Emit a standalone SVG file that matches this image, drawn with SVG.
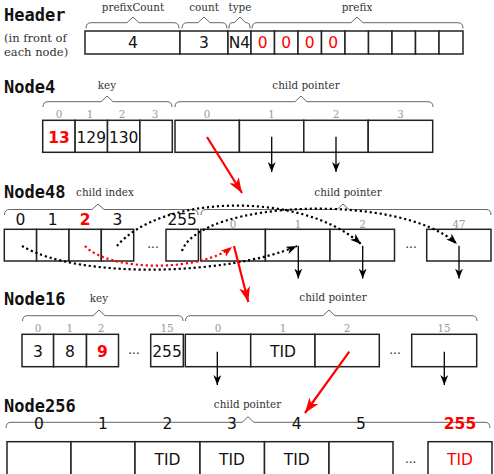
<svg xmlns="http://www.w3.org/2000/svg" width="494" height="474" viewBox="0 0 494 474">
<style>
.box{fill:#fff;stroke:#222;stroke-width:1.5}
.brace{fill:none;stroke:#666;stroke-width:1}
.lbl{font-family:"DejaVu Serif",serif;font-size:10.4px;fill:#333;text-anchor:middle}
.note{font-family:"DejaVu Serif",serif;font-size:11.5px;fill:#333}
.idx{font-family:"DejaVu Serif",serif;font-size:10.3px;fill:#999;text-anchor:middle}
.val{font-family:"DejaVu Sans",sans-serif;font-size:15.5px;fill:#111;text-anchor:middle}
.dots{font-family:"DejaVu Serif",serif;font-size:12px;fill:#333;text-anchor:middle}
.title{font-family:"DejaVu Sans Mono",monospace;font-weight:bold;font-size:17px;fill:#111}
.red{fill:#f00}
.b{font-weight:bold}
.down{stroke:#000;stroke-width:1.3;fill:none;marker-end:url(#ah)}
.rarrow{stroke:#f00;stroke-width:2.2;fill:none;marker-end:url(#rah)}
.dot{stroke:#000;stroke-width:2.2;fill:none;stroke-dasharray:2.2 2.8;marker-end:url(#dah)}
.rdot{stroke:#f00;stroke-width:2.2;fill:none;stroke-dasharray:2.2 2.8;marker-end:url(#rdah)}
</style>
<defs>
<marker id="ah" markerUnits="userSpaceOnUse" markerWidth="10" markerHeight="8" refX="10" refY="4" orient="auto"><path d="M0,0 L10,4 L0,8 L3,4 z" fill="#000"/></marker>
<marker id="rah" markerUnits="userSpaceOnUse" markerWidth="15" markerHeight="11" refX="15" refY="5.5" orient="auto"><path d="M0,0 L15,5.5 L0,11 L4,5.5 z" fill="#f00"/></marker>
<marker id="dah" markerUnits="userSpaceOnUse" markerWidth="11" markerHeight="8" refX="11" refY="4" orient="auto"><path d="M0,0 L11,4 L0,8 L3,4 z" fill="#000"/></marker>
<marker id="rdah" markerUnits="userSpaceOnUse" markerWidth="11" markerHeight="8" refX="11" refY="4" orient="auto"><path d="M0,0 L11,4 L0,8 L3,4 z" fill="#f00"/></marker>
</defs>

<g id="header">
<text class="title" x="4" y="21">Header</text>
<text class="note" x="4" y="42">(in front of</text>
<text class="note" x="4" y="56">each node)</text>
<path class="brace" d="M86,28.5 Q86,22.7 91,22.7 L127,22.7 L133,17 L139,22.7 L174,22.7 Q179,22.7 179,28.5"/>
<path class="brace" d="M182,28.5 Q182,22.7 187,22.7 L198,22.7 L204,17 L210,22.7 L222,22.7 Q227,22.7 227,28.5"/>
<path class="brace" d="M229,28.5 Q229,22.7 232,22.7 L234.5,22.7 L240,17 L245.5,22.7 L247,22.7 Q250,22.7 250,28.5"/>
<path class="brace" d="M252,28.5 Q252,22.7 257,22.7 L351,22.7 L357,17 L363,22.7 L458,22.7 Q463,22.7 463,28.5"/>
<text class="lbl" x="133" y="10.5">prefixCount</text>
<text class="lbl" x="204" y="10.5">count</text>
<text class="lbl" x="240" y="10.5">type</text>
<text class="lbl" x="357" y="10.5">prefix</text>
<rect class="box" x="85" y="31" width="95" height="23"/>
<rect class="box" x="180" y="31" width="48" height="23"/>
<rect class="box" x="228" y="31" width="23" height="23"/>
<rect class="box" x="251" y="31" width="23.5" height="23"/>
<rect class="box" x="274.5" y="31" width="23.5" height="23"/>
<rect class="box" x="298" y="31" width="23.5" height="23"/>
<rect class="box" x="321.5" y="31" width="23.5" height="23"/>
<rect class="box" x="345" y="31" width="23.5" height="23"/>
<rect class="box" x="368.5" y="31" width="23.5" height="23"/>
<rect class="box" x="392" y="31" width="23.5" height="23"/>
<rect class="box" x="415.5" y="31" width="23.5" height="23"/>
<rect class="box" x="439" y="31" width="24" height="23"/>
<text class="val" x="133" y="48">4</text>
<text class="val" x="204" y="48">3</text>
<text class="val" x="239.5" y="48">N4</text>
<text class="val red" x="262.7" y="48">0</text>
<text class="val red" x="286.2" y="48">0</text>
<text class="val red" x="309.7" y="48">0</text>
<text class="val red" x="333.2" y="48">0</text>
</g>

<g id="node4">
<text class="title" x="4" y="92.5">Node4</text>
<path class="brace" d="M43,107 Q43,101.7 48,101.7 L101,101.7 L107,96 L113,101.7 L167,101.7 Q172,101.7 172,107"/>
<path class="brace" d="M175,107 Q175,101.7 180,101.7 L295,101.7 L301,96 L307,101.7 L428,101.7 Q433,101.7 433,107"/>
<text class="lbl" x="107" y="89">key</text>
<text class="lbl" x="306" y="89">child pointer</text>
<text class="idx" x="59" y="118">0</text>
<text class="idx" x="90" y="118">1</text>
<text class="idx" x="122" y="118">2</text>
<text class="idx" x="155" y="118">3</text>
<text class="idx" x="207" y="118">0</text>
<text class="idx" x="271.5" y="118">1</text>
<text class="idx" x="336" y="118">2</text>
<text class="idx" x="400.5" y="118">3</text>
<rect class="box" x="42.7" y="120.3" width="32.4" height="32"/>
<rect class="box" x="75.1" y="120.3" width="32.4" height="32"/>
<rect class="box" x="107.5" y="120.3" width="32.4" height="32"/>
<rect class="box" x="139.9" y="120.3" width="32.4" height="32"/>
<rect class="box" x="175" y="120.3" width="64.4" height="32"/>
<rect class="box" x="239.4" y="120.3" width="64.4" height="32"/>
<rect class="box" x="303.8" y="120.3" width="64.4" height="32"/>
<rect class="box" x="368.2" y="120.3" width="64.5" height="32"/>
<text class="val red b" x="59" y="142.5">13</text>
<text class="val" x="91.3" y="142.5">129</text>
<text class="val" x="123.7" y="142.5">130</text>
</g>

<g id="node48">
<text class="title" x="4" y="198">Node48</text>
<path class="brace" d="M4.5,215 Q4.5,209.5 9.5,209.5 L92,209.5 L98,204 L104,209.5 L193,209.5 Q198,209.5 198,215"/>
<path class="brace" d="M201,215 Q201,209.5 206,209.5 L337,209.5 L343,204 L349,209.5 L486,209.5 Q491,209.5 491,215"/>
<text class="lbl" x="105" y="196">child index</text>
<text class="lbl" x="348" y="196">child pointer</text>
<text class="val" x="20.5" y="225">0</text>
<text class="val" x="52.8" y="225">1</text>
<text class="val red b" x="85.2" y="225">2</text>
<text class="val" x="117.5" y="225">3</text>
<text class="val" x="182.2" y="225">255</text>
<text class="idx" x="233" y="227.5">0</text>
<text class="idx" x="298" y="227.5">1</text>
<text class="idx" x="362.5" y="227.5">2</text>
<text class="idx" x="459" y="227.5">47</text>
<rect class="box" x="4.3" y="229.3" width="32.3" height="31.7"/>
<rect class="box" x="36.6" y="229.3" width="32.4" height="31.7"/>
<rect class="box" x="69" y="229.3" width="32.3" height="31.7"/>
<rect class="box" x="101.3" y="229.3" width="32.4" height="31.7"/>
<rect class="box" x="166" y="229.3" width="32.4" height="31.7"/>
<rect class="box" x="200.7" y="229.3" width="64.7" height="31.7"/>
<rect class="box" x="265.4" y="229.3" width="64.6" height="31.7"/>
<rect class="box" x="330" y="229.3" width="64.5" height="31.7"/>
<rect class="box" x="426.7" y="229.3" width="64.3" height="31.7"/>
<text class="dots" x="153" y="248">...</text>
<text class="dots" x="411" y="248">...</text>
</g>

<g id="node16">
<text class="title" x="4" y="305">Node16</text>
<path class="brace" d="M22.5,321 Q22.5,315.7 27.5,315.7 L93,315.7 L99,310 L105,315.7 L178,315.7 Q183,315.7 183,321"/>
<path class="brace" d="M185.5,321 Q185.5,315.7 190.5,315.7 L323,315.7 L329,310 L335,315.7 L472,315.7 Q477,315.7 477,321"/>
<text class="lbl" x="99" y="301.5">key</text>
<text class="lbl" x="333" y="301">child pointer</text>
<text class="idx" x="38" y="331.7">0</text>
<text class="idx" x="69.7" y="331.7">1</text>
<text class="idx" x="101" y="331.7">2</text>
<text class="idx" x="167" y="331.7">15</text>
<text class="idx" x="218" y="331.7">0</text>
<text class="idx" x="283" y="331.7">1</text>
<text class="idx" x="347" y="331.7">2</text>
<text class="idx" x="444" y="331.7">15</text>
<rect class="box" x="22" y="334.3" width="31.6" height="32.4"/>
<rect class="box" x="53.6" y="334.3" width="32.9" height="32.4"/>
<rect class="box" x="86.5" y="334.3" width="32" height="32.4"/>
<rect class="box" x="150.7" y="334.3" width="32.6" height="32.4"/>
<rect class="box" x="185.3" y="334.3" width="65.4" height="32.4"/>
<rect class="box" x="250.7" y="334.3" width="64.3" height="32.4"/>
<rect class="box" x="315" y="334.3" width="64.3" height="32.4"/>
<rect class="box" x="411.7" y="334.3" width="65" height="32.4"/>
<text class="val" x="38" y="356.7">3</text>
<text class="val" x="70" y="356.7">8</text>
<text class="val red b" x="102.5" y="356.7">9</text>
<text class="val" x="167" y="356.7">255</text>
<text class="val" x="283" y="356.7">TID</text>
<text class="dots" x="134" y="354">...</text>
<text class="dots" x="395" y="354">...</text>
</g>

<g id="node256">
<text class="title" x="4" y="411.5">Node256</text>
<path class="brace" d="M6,428 Q6,422.3 11,422.3 L242,422.3 L248,416.7 L254,422.3 L485,422.3 Q490,422.3 490,428"/>
<text class="lbl" x="247.5" y="408">child pointer</text>
<text class="val" x="39" y="429">0</text>
<text class="val" x="103" y="429">1</text>
<text class="val" x="167.5" y="429">2</text>
<text class="val" x="232" y="429">3</text>
<text class="val" x="296.7" y="429">4</text>
<text class="val" x="361" y="429">5</text>
<text class="val red b" x="460" y="429">255</text>
<rect class="box" x="7" y="441.7" width="64" height="50"/>
<rect class="box" x="71" y="441.7" width="64" height="50"/>
<rect class="box" x="135" y="441.7" width="65" height="50"/>
<rect class="box" x="200" y="441.7" width="64.5" height="50"/>
<rect class="box" x="264.5" y="441.7" width="64.5" height="50"/>
<rect class="box" x="329" y="441.7" width="64" height="50"/>
<rect class="box" x="428" y="441.7" width="64" height="50"/>
<text class="val" x="167.5" y="465">TID</text>
<text class="val" x="232" y="465">TID</text>
<text class="val" x="296.7" y="465">TID</text>
<text class="val red" x="460" y="465">TID</text>
<text class="dots" x="410.7" y="463">...</text>
</g>

<g id="connectors">
<line class="down" x1="271.7" y1="136.7" x2="271.7" y2="172"/>
<line class="down" x1="336" y1="136.7" x2="336" y2="172"/>
<line class="rarrow" x1="207" y1="137" x2="242" y2="193"/>
<path class="dot" d="M22,246 C80,280 230,275 297,246"/>
<path class="rdot" d="M85,246 C110,272 200,272 232,247"/>
<path class="dot" d="M117,246 C160,195 300,190 361,244"/>
<path class="dot" d="M182,251 C200,200 400,192 457,244"/>
<line class="down" x1="298.3" y1="245.7" x2="298.3" y2="278.5"/>
<line class="down" x1="362.7" y1="245.7" x2="362.7" y2="278.5"/>
<line class="down" x1="459" y1="245.7" x2="459" y2="278.5"/>
<line class="rarrow" x1="234" y1="246" x2="248.3" y2="302"/>
<line class="down" x1="217.3" y1="351.7" x2="217.3" y2="385"/>
<line class="down" x1="444.3" y1="351.7" x2="444.3" y2="385"/>
<line class="rarrow" x1="349.3" y1="351.7" x2="305" y2="413"/>
</g>
</svg>
